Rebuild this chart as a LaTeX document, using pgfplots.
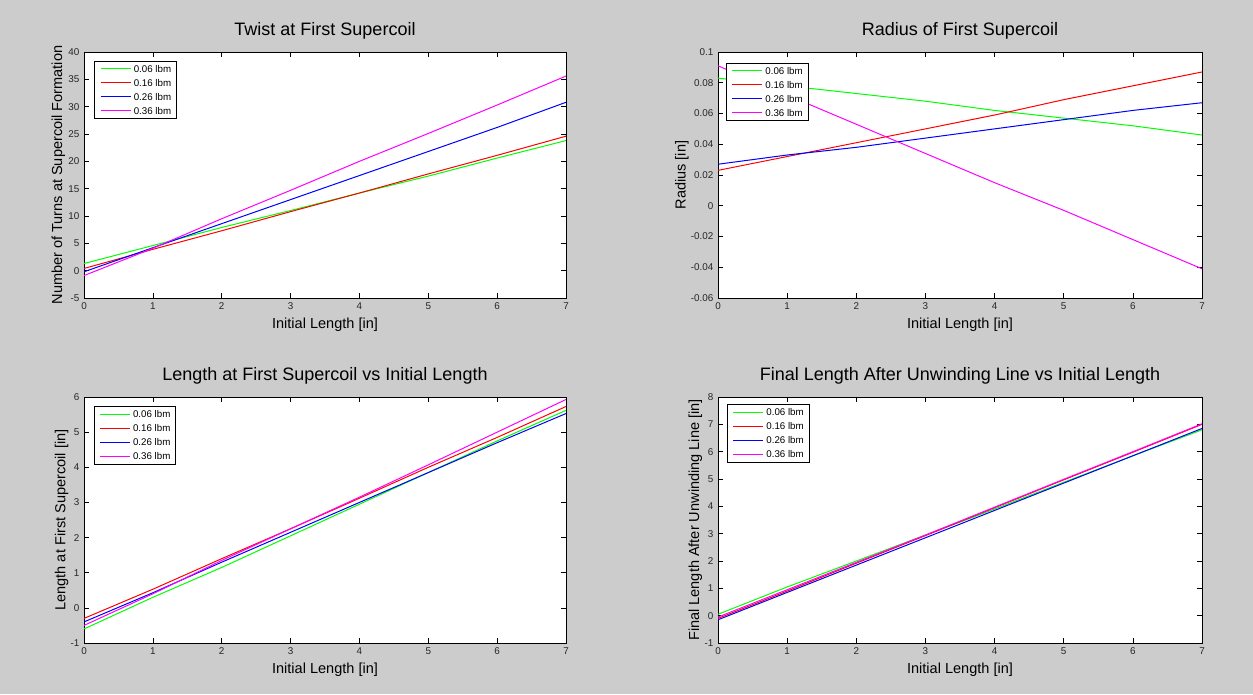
\documentclass[border=0pt]{standalone}
\usepackage{fontspec}
\setmainfont{Liberation Sans}
\usepackage{pgfplots}
\pgfplotsset{compat=1.18}
\definecolor{figbg}{RGB}{204,204,204}
\definecolor{mgreen}{RGB}{0,255,0}
\definecolor{mred}{RGB}{255,0,0}
\definecolor{mblue}{RGB}{0,0,255}
\definecolor{mmag}{RGB}{255,0,255}
\pgfplotsset{
  matstyle/.style={
    scale only axis,
    height=184.5pt,
    xmin=0, xmax=7,
    xtick={0,1,...,7},
    axis background/.style={fill=white},
    axis line style={black, line width=0.6pt},
    tick align=inside,
    major tick length=3.5pt,
    tick style={black, line width=0.5pt},
    tick pos=both,
    tick label style={font=\fontsize{7.4}{8}\selectfont, text=black!85},
    /pgf/number format/assume math mode=true,
    scaled ticks=false,
    title style={font=\fontsize{13.5}{15}\selectfont, at={(0.5,1)}, anchor=base, yshift=6.4pt},
    xlabel style={font=\fontsize{10.9}{12}\selectfont, at={(0.5,0)}, anchor=base, yshift=-22.5pt},
    ylabel style={font=\fontsize{10.9}{12}\selectfont, anchor=base, rotate=0},
    every axis plot/.append style={line width=0.75pt},
    legend cell align=left,
    legend image code/.code={\draw[#1, line width=0.75pt] (0pt,0pt) -- (22.5pt,0pt);},
    legend style={anchor=north west, draw=black, line width=0.6pt, fill=white,
      font=\fontsize{7.3}{8}\selectfont,
      inner xsep=4pt, inner ysep=3.2pt,
      nodes={inner sep=0pt, text height=5.3pt, text depth=0pt},
      row sep=5.2pt, column sep=2pt},
    xlabel={Initial Length [in]},
  }
}
\begin{document}
\begin{tikzpicture}
\fill[figbg] (0,0) rectangle (939.75pt,520.5pt);
\useasboundingbox (0,0) rectangle (939.75pt,520.5pt);

% Top left
\begin{axis}[matstyle, at={(63pt,297pt)}, anchor=south west, width=361.5pt,
  ymin=-5, ymax=40, ytick={-5,0,...,40},
  title={Twist at First Supercoil},
  ylabel={Number of Turns at Supercoil Formation},
  ylabel style={at={(axis description cs:-0.0456,0.5)}},
  legend style={at={(0.0216,0.965)}}]
\addplot[mgreen] coordinates {(0,1.3) (1,4.6) (2,7.9) (3,11.0) (4,14.2) (5,17.3) (6,20.6) (7,23.8)};
\addplot[mred] coordinates {(0,0.4) (1,3.9) (2,7.3) (3,10.8) (4,14.2) (5,17.7) (6,21.1) (7,24.6)};
\addplot[mblue] coordinates {(0,-0.2) (1,4.2) (2,8.6) (3,13.0) (4,17.4) (5,21.8) (6,26.2) (7,30.8)};
\addplot[mmag] coordinates {(0,-0.9) (1,4.1) (2,9.5) (3,14.7) (4,20.0) (5,25.1) (6,30.3) (7,35.6)};
\legend{0.06 lbm,0.16 lbm,0.26 lbm,0.36 lbm}
\end{axis}

% Top right
\begin{axis}[matstyle, at={(538.5pt,297pt)}, anchor=south west, width=363pt,
  ymin=-0.06, ymax=0.1, ytick={-0.06,-0.04,-0.02,0,0.02,0.04,0.06,0.08,0.1},
  yticklabels={-0.06,-0.04,-0.02,0,0.02,0.04,0.06,0.08,0.1},
  title={Radius of First Supercoil},
  ylabel={Radius [in]},
  ylabel style={at={(axis description cs:-0.067,0.5)}},
  legend style={at={(0.0165,0.957)}}]
\addplot[mgreen] coordinates {(0,0.083) (1,0.078) (2,0.073) (3,0.068) (4,0.062) (5,0.057) (6,0.052) (7,0.046)};
\addplot[mred] coordinates {(0,0.023) (1,0.032) (2,0.041) (3,0.050) (4,0.059) (5,0.069) (6,0.078) (7,0.087)};
\addplot[mblue] coordinates {(0,0.027) (1,0.033) (2,0.038) (3,0.044) (4,0.050) (5,0.056) (6,0.062) (7,0.067)};
\addplot[mmag] coordinates {(0,0.091) (1,0.072) (2,0.053) (3,0.034) (4,0.015) (5,-0.003) (6,-0.022) (7,-0.041)};
\legend{0.06 lbm,0.16 lbm,0.26 lbm,0.36 lbm}
\end{axis}

% Bottom left
\begin{axis}[matstyle, at={(63pt,38.25pt)}, anchor=south west, width=361.5pt,
  ymin=-1, ymax=6, ytick={-1,0,...,6},
  title={Length at First Supercoil vs Initial Length},
  ylabel={Length at First Supercoil [in]},
  ylabel style={at={(axis description cs:-0.0384,0.5)}},
  legend style={at={(0.02,0.963)}}]
\addplot[mgreen] coordinates {(0,-0.6) (1,0.3) (2,1.15) (3,2.05) (4,2.95) (5,3.85) (6,4.75) (7,5.62)};
\addplot[mred] coordinates {(0,-0.3) (1,0.53) (2,1.4) (3,2.25) (4,3.12) (5,4.0) (6,4.85) (7,5.73)};
\addplot[mblue] coordinates {(0,-0.4) (1,0.43) (2,1.3) (3,2.15) (4,3.0) (5,3.85) (6,4.7) (7,5.53)};
\addplot[mmag] coordinates {(0,-0.5) (1,0.4) (2,1.35) (3,2.25) (4,3.15) (5,4.07) (6,5.0) (7,5.93)};
\legend{0.06 lbm,0.16 lbm,0.26 lbm,0.36 lbm}
\end{axis}

% Bottom right
\begin{axis}[matstyle, at={(538.5pt,38.25pt)}, anchor=south west, width=363pt,
  ymin=-1, ymax=8, ytick={-1,0,...,8},
  title={Final Length After Unwinding Line vs Initial Length},
  ylabel={Final Length After Unwinding Line [in]},
  ylabel style={at={(axis description cs:-0.039,0.5)}},
  legend style={at={(0.0186,0.972)}}]
\addplot[mgreen] coordinates {(0,0.05) (1,1.05) (2,2.0) (3,2.95) (4,3.9) (5,4.88) (6,5.85) (7,6.8)};
\addplot[mred] coordinates {(0,-0.1) (1,0.9) (2,1.92) (3,2.93) (4,3.95) (5,4.97) (6,5.98) (7,7.0)};
\addplot[mblue] coordinates {(0,-0.15) (1,0.85) (2,1.85) (3,2.85) (4,3.85) (5,4.85) (6,5.85) (7,6.85)};
\addplot[mmag] coordinates {(0,-0.05) (1,0.95) (2,1.95) (3,2.95) (4,3.97) (5,4.99) (6,6.0) (7,7.02)};
\legend{0.06 lbm,0.16 lbm,0.26 lbm,0.36 lbm}
\end{axis}
\end{tikzpicture}
\end{document}
